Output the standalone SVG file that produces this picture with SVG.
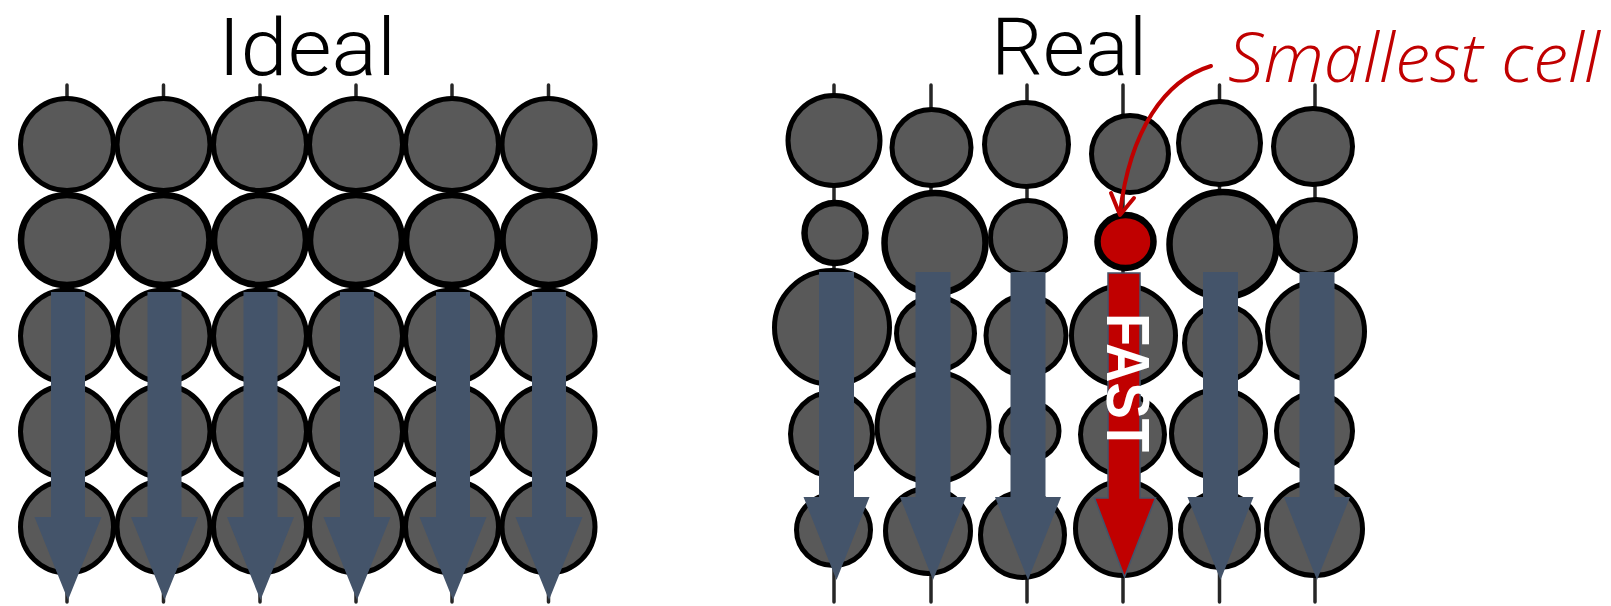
<svg xmlns="http://www.w3.org/2000/svg" xmlns:xlink="http://www.w3.org/1999/xlink" width="1611" height="606" viewBox="0 0 1611 606">
<style>
.bg{fill:#ffffff}
.cell{fill:#595959;stroke:#000000;stroke-width:5}
.thick{stroke-width:6.5}
.red{fill:#C00000}
.axis{stroke:#262626;stroke-width:3.5;stroke-linecap:round;fill:none}
.flow{fill:#44546A}
.fast{fill:#C00000;stroke:#44546A;stroke-width:1.5}
.title{font-family:Roboto,"Liberation Sans",sans-serif;font-weight:300;fill:#000000}
.note{font-family:"Open Sans","Liberation Sans",sans-serif;font-weight:300;font-style:italic;fill:#C00000}
.fasttxt{font-family:"Liberation Sans","Open Sans",sans-serif;font-weight:bold;fill:#ffffff}
.pointer{fill:none;stroke:#C00000;stroke-width:4;stroke-linecap:round;stroke-linejoin:round}
</style>
<defs>
<path id="arrL" d="M-17,292 H17 V517 H33.5 L0,600 L-33.5,517 H-17 Z"/>
<path id="arrR" d="M-17.5,272 H17.5 V497 H33 L0,580 L-33,497 H-17.5 Z"/>
</defs>
<rect class="bg" x="0" y="0" width="1611" height="606"/>

<g id="title-ideal"><text class="title" x="218" y="75" font-size="80" textLength="178" lengthAdjust="spacingAndGlyphs">Ideal</text></g>
<g id="title-real"><text class="title" x="991" y="75" font-size="80" textLength="156" lengthAdjust="spacingAndGlyphs">Real</text></g>
<g id="label-smallest"><text class="note" x="1228" y="82" font-size="68" textLength="372" lengthAdjust="spacingAndGlyphs">Smallest cell</text></g>

<g id="axes">
<line class="axis" x1="67" y1="85" x2="67" y2="602"/>
<line class="axis" x1="163.5" y1="85" x2="163.5" y2="602"/>
<line class="axis" x1="260" y1="85" x2="260" y2="602"/>
<line class="axis" x1="356" y1="85" x2="356" y2="602"/>
<line class="axis" x1="452" y1="85" x2="452" y2="602"/>
<line class="axis" x1="548.5" y1="85" x2="548.5" y2="602"/>
<line class="axis" x1="834" y1="85" x2="834" y2="602"/>
<line class="axis" x1="931" y1="85" x2="931" y2="602"/>
<line class="axis" x1="1027" y1="85" x2="1027" y2="602"/>
<line class="axis" x1="1123" y1="85" x2="1123" y2="602"/>
<line class="axis" x1="1219.5" y1="85" x2="1219.5" y2="602"/>
<line class="axis" x1="1315" y1="85" x2="1315" y2="602"/>
</g>

<g id="ideal-col1">
<ellipse class="cell" cx="67" cy="144.5" rx="46.5" ry="46"/>
<ellipse class="cell thick" cx="67" cy="240" rx="46" ry="45"/>
<ellipse class="cell" cx="67" cy="336" rx="46.5" ry="46"/>
<ellipse class="cell" cx="67" cy="431.5" rx="46.5" ry="46"/>
<ellipse class="cell" cx="67" cy="527" rx="46.5" ry="46"/>
</g>
<g id="ideal-col2">
<ellipse class="cell" cx="163.5" cy="144.5" rx="46.5" ry="46"/>
<ellipse class="cell thick" cx="163.5" cy="240" rx="46" ry="45"/>
<ellipse class="cell" cx="163.5" cy="336" rx="46.5" ry="46"/>
<ellipse class="cell" cx="163.5" cy="431.5" rx="46.5" ry="46"/>
<ellipse class="cell" cx="163.5" cy="527" rx="46.5" ry="46"/>
</g>
<g id="ideal-col3">
<ellipse class="cell" cx="260" cy="144.5" rx="46.5" ry="46"/>
<ellipse class="cell thick" cx="260" cy="240" rx="46" ry="45"/>
<ellipse class="cell" cx="260" cy="336" rx="46.5" ry="46"/>
<ellipse class="cell" cx="260" cy="431.5" rx="46.5" ry="46"/>
<ellipse class="cell" cx="260" cy="527" rx="46.5" ry="46"/>
</g>
<g id="ideal-col4">
<ellipse class="cell" cx="356" cy="144.5" rx="46.5" ry="46"/>
<ellipse class="cell thick" cx="356" cy="240" rx="46" ry="45"/>
<ellipse class="cell" cx="356" cy="336" rx="46.5" ry="46"/>
<ellipse class="cell" cx="356" cy="431.5" rx="46.5" ry="46"/>
<ellipse class="cell" cx="356" cy="527" rx="46.5" ry="46"/>
</g>
<g id="ideal-col5">
<ellipse class="cell" cx="452" cy="144.5" rx="46.5" ry="46"/>
<ellipse class="cell thick" cx="452" cy="240" rx="46" ry="45"/>
<ellipse class="cell" cx="452" cy="336" rx="46.5" ry="46"/>
<ellipse class="cell" cx="452" cy="431.5" rx="46.5" ry="46"/>
<ellipse class="cell" cx="452" cy="527" rx="46.5" ry="46"/>
</g>
<g id="ideal-col6">
<ellipse class="cell" cx="548.5" cy="144.5" rx="46.5" ry="46"/>
<ellipse class="cell thick" cx="548.5" cy="240" rx="46" ry="45"/>
<ellipse class="cell" cx="548.5" cy="336" rx="46.5" ry="46"/>
<ellipse class="cell" cx="548.5" cy="431.5" rx="46.5" ry="46"/>
<ellipse class="cell" cx="548.5" cy="527" rx="46.5" ry="46"/>
</g>

<g id="real-col1">
<ellipse class="cell" cx="834" cy="140.5" rx="46" ry="45"/>
<ellipse class="cell thick" cx="835" cy="233" rx="30.5" ry="30"/>
<ellipse class="cell" cx="832" cy="327.5" rx="57.5" ry="57"/>
<ellipse class="cell" cx="831.5" cy="434" rx="41" ry="41.5"/>
<ellipse class="cell" cx="833.5" cy="530" rx="37" ry="35.5"/>
</g>
<g id="real-col2">
<ellipse class="cell" cx="931.5" cy="147.5" rx="39.5" ry="38"/>
<ellipse class="cell" cx="935.5" cy="333.5" rx="39" ry="36.5"/>
<ellipse class="cell" cx="928" cy="531" rx="42.5" ry="42.5"/>
<ellipse class="cell thick" cx="935" cy="243" rx="50.5" ry="50"/>
<ellipse class="cell" cx="933" cy="427" rx="56" ry="55"/>
</g>
<g id="real-col3">
<ellipse class="cell" cx="1026.5" cy="144.5" rx="42" ry="42"/>
<ellipse class="cell" cx="1028" cy="237.5" rx="37.5" ry="37"/>
<ellipse class="cell" cx="1026" cy="335.5" rx="40" ry="40"/>
<ellipse class="cell" cx="1030" cy="431" rx="29" ry="28.5"/>
<ellipse class="cell" cx="1022.5" cy="535" rx="42" ry="42.5"/>
</g>
<g id="real-col4">
<ellipse class="cell" cx="1130" cy="154" rx="38.5" ry="38.5"/>
<ellipse class="cell red thick" cx="1125.5" cy="241.5" rx="28" ry="26.5"/>
<ellipse class="cell" cx="1123.5" cy="335.5" rx="52" ry="50"/>
<ellipse class="cell" cx="1122.5" cy="434.5" rx="42" ry="40"/>
<ellipse class="cell" cx="1123" cy="528.5" rx="47.5" ry="47"/>
</g>
<g id="real-col5">
<ellipse class="cell" cx="1219.5" cy="143" rx="41" ry="41.5"/>
<ellipse class="cell" cx="1222.5" cy="343" rx="38" ry="37.5"/>
<ellipse class="cell thick" cx="1223" cy="244.5" rx="53.5" ry="52.5"/>
<ellipse class="cell" cx="1218.5" cy="433.5" rx="47" ry="44"/>
<ellipse class="cell" cx="1219.5" cy="530" rx="39" ry="37.5"/>
</g>
<g id="real-col6">
<ellipse class="cell" cx="1313" cy="146.5" rx="39.5" ry="38"/>
<ellipse class="cell" cx="1316" cy="237" rx="39.5" ry="37.5"/>
<ellipse class="cell" cx="1316" cy="331.5" rx="48.5" ry="49"/>
<ellipse class="cell" cx="1314.5" cy="431" rx="38" ry="37.5"/>
<ellipse class="cell" cx="1314.5" cy="529" rx="48" ry="46.5"/>
</g>

<g id="connectors">
<use href="#arrL" xlink:href="#arrL" class="flow" transform="translate(68,0)"/>
<use href="#arrL" xlink:href="#arrL" class="flow" transform="translate(164.5,0)"/>
<use href="#arrL" xlink:href="#arrL" class="flow" transform="translate(260.5,0)"/>
<use href="#arrL" xlink:href="#arrL" class="flow" transform="translate(357,0)"/>
<use href="#arrL" xlink:href="#arrL" class="flow" transform="translate(453,0)"/>
<use href="#arrL" xlink:href="#arrL" class="flow" transform="translate(549,0)"/>
<use href="#arrR" xlink:href="#arrR" class="flow" transform="translate(836.5,0)"/>
<use href="#arrR" xlink:href="#arrR" class="flow" transform="translate(933,0)"/>
<use href="#arrR" xlink:href="#arrR" class="flow" transform="translate(1028,0)"/>
<use href="#arrR" xlink:href="#arrR" class="flow" transform="translate(1220.5,0)"/>
<use href="#arrR" xlink:href="#arrR" class="flow" transform="translate(1317,0)"/>
<path class="fast" d="M1108,273 H1140 V498 H1155.5 L1124.5,577 L1094.5,498 H1108 Z"/>
<path class="pointer" d="M1211,66 C1165,80 1130,130 1120,213"/>
<path class="pointer" d="M1111,193 L1120,215 L1134,198"/>
</g>
<g id="label-fast"><text class="fasttxt" transform="translate(1107,313) rotate(90)" x="0" y="0" font-size="62" textLength="139" lengthAdjust="spacingAndGlyphs">FAST</text></g>
</svg>
